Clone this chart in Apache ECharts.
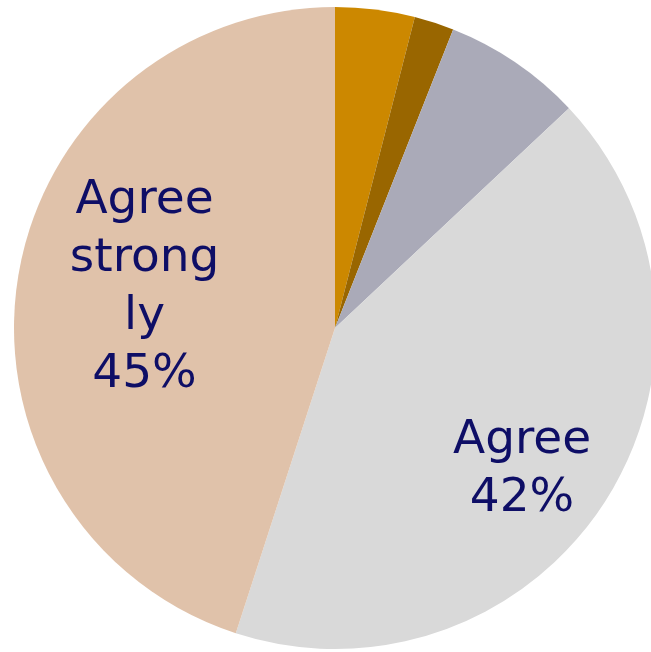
<!DOCTYPE html>
<html>
<head>
<meta charset="utf-8">
<script src="https://cdn.jsdelivr.net/npm/echarts@6/dist/echarts.min.js"></script>
<style>
html,body{margin:0;padding:0;background:#ffffff;}
#chart{width:651px;height:652px;}
</style>
</head>
<body>
<div id="chart"></div>
<script>
var categories = ['Disagree', 'Disagree strongly', 'Neutral', 'Agree', 'Agree strongly'];
var values = [4, 2, 7, 42, 45];
var labelTexts = ['', '', '', 'Agree\n42%', 'Agree\nstrong\nly\n45%'];
var colors = ['#CC8800', '#996600', '#AAAAB8', '#D9D9D9', '#E0C2AA'];
var labelShift = [[0,0],[0,0],[0,0],[49,54],[-29,-15]];

var chart = echarts.init(document.getElementById('chart'), null, {renderer:'canvas'});
var data = categories.map(function(c, i){
  return {
    name: c,
    value: values[i],
    itemStyle: {color: colors[i]},
    label: {show: labelTexts[i] !== ''}
  };
});
chart.setOption({
  animation: false,
  backgroundColor: '#ffffff',
  series: [{
    type: 'pie',
    center: [335, 328],
    radius: [0, 321],
    startAngle: 90,
    clockwise: true,
    avoidLabelOverlap: false,
    itemStyle: {borderWidth: 0},
    emphasis: {disabled: true},
    label: {
      position: 'inside',
      formatter: function(p){ return labelTexts[p.dataIndex]; },
      fontFamily: 'DejaVu Sans',
      fontSize: 47,
      lineHeight: 58,
      color: '#0E0E66',
      align: 'center'
    },
    labelLine: {show: false},
    labelLayout: function(p){
      var s = labelShift[p.dataIndex];
      return {dx: s[0], dy: s[1]};
    },
    data: data
  }]
});
</script>
</body>
</html>
